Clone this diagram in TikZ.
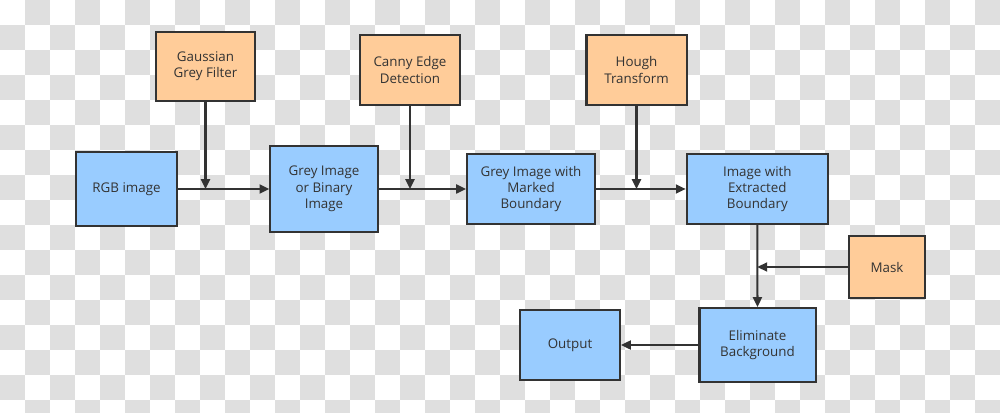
\documentclass[tikz,border=0pt]{standalone}
\usepackage{fontspec}
\setmainfont{Open Sans}
\usepackage{tikz}
\usetikzlibrary{arrows.meta}
\definecolor{boxblue}{HTML}{99CCFF}
\definecolor{boxorange}{HTML}{FFCC99}
\definecolor{ink}{HTML}{333333}
\definecolor{checker}{HTML}{DFDFDF}

\begin{document}
\begin{tikzpicture}[x=0.025cm, y=-0.025cm,
	every node/.style={font=\fontsize{9.5}{11.6}\selectfont, text=ink, align=center},
	proc/.style={draw=ink, line width=1.45pt, fill=boxblue, inner sep=0pt},
	tool/.style={draw=ink, line width=1.45pt, fill=boxorange, inner sep=0pt},
	flow/.style={draw=ink, line width=1.45pt, -{Triangle[length=7pt, width=6.4pt]}}]
	\useasboundingbox (0,0) rectangle (1000,413);
	\begin{scope}
		\clip (0,0) rectangle (1000,413);
		\fill[white] (0,0) rectangle (1000,413);
		\foreach \j in {0,...,16}
			\foreach \i in {0,...,19} {
				\pgfmathtruncatemacro\k{2*\i+mod(\j+1,2)}
				\fill[checker] (\k*25,\j*25) rectangle +(25,25);
			}
	\end{scope}
	\node[tool, minimum width=2.48cm, minimum height=1.73cm] (gauss) at (205.5,66.5) {Gaussian\\Grey Filter};
	\node[tool, minimum width=2.5cm, minimum height=1.75cm] (canny) at (410,70) {Canny Edge\\Detection};
	\node[tool, minimum width=2.5cm, minimum height=1.75cm] (hough) at (636.5,70) {Hough\\Transform};
	\node[proc, minimum width=2.53cm, minimum height=1.85cm] (rgb) at (126.5,189) {RGB image};
	\node[proc, minimum width=2.68cm, minimum height=2.15cm] (grey) at (324,189) {Grey Image\\or Binary\\Image};
	\node[proc, minimum width=3.2cm, minimum height=1.75cm] (marked) at (531,189) {Grey Image with\\Marked\\Boundary};
	\node[proc, minimum width=3.53cm, minimum height=1.75cm] (extracted) at (757.3,189) {Image with\\Extracted\\Boundary};
	\node[tool, minimum width=1.9cm, minimum height=1.55cm] (mask) at (887,267) {Mask};
	\node[proc, minimum width=2.9cm, minimum height=1.85cm] (elim) at (757.5,345) {Eliminate\\Background};
	\node[proc, minimum width=2.5cm, minimum height=1.75cm] (output) at (570,345) {Output};
	\coordinate (j1) at (gauss.south |- rgb.east);
	\coordinate (j2) at (canny.south |- grey.east);
	\coordinate (j3) at (hough.south |- marked.east);
	\coordinate (j4) at (extracted.south |- mask.west);
	\draw[flow] (rgb) -- (grey);
	\draw[flow] (grey) -- (marked);
	\draw[flow] (marked) -- (extracted);
	\draw[flow] (gauss) -- (j1);
	\draw[flow] (canny) -- (j2);
	\draw[flow] (hough) -- (j3);
	\draw[flow] (extracted.south) -- (elim.north);
	\draw[flow] (mask) -- (j4);
	\draw[flow] (elim) -- (output);
\end{tikzpicture}
\end{document}
